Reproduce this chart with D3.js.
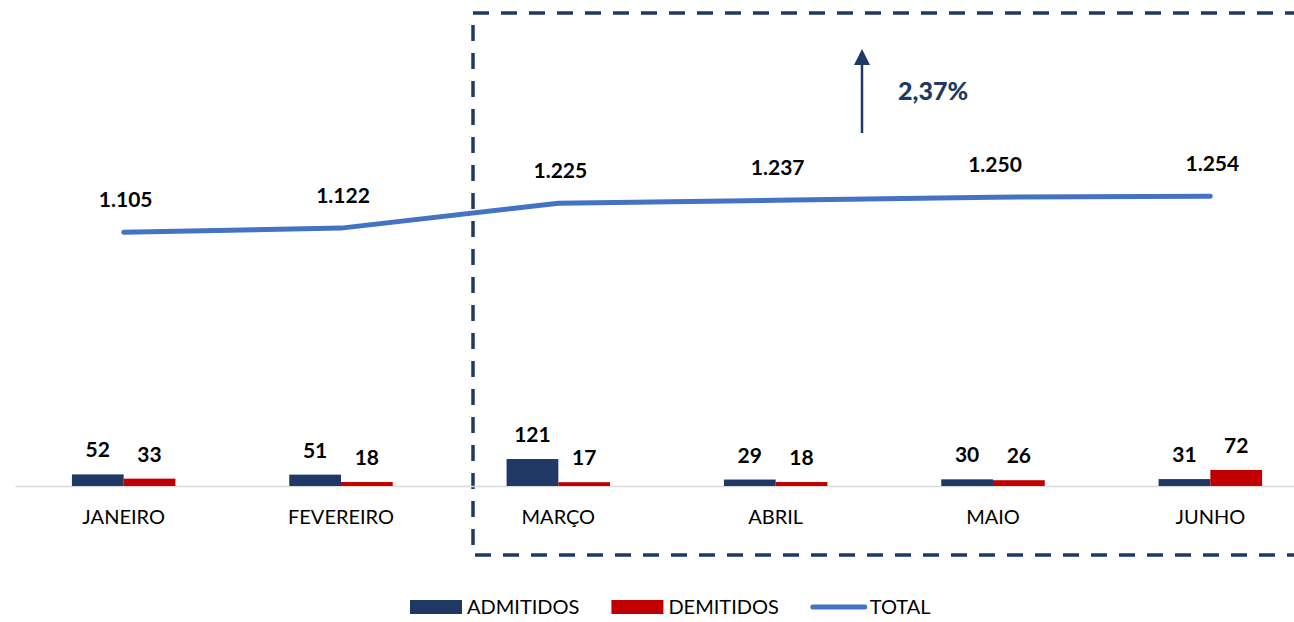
<!DOCTYPE html>
<html>
<head>
<meta charset="utf-8">
<script src="https://cdn.jsdelivr.net/npm/d3@7"></script>
<style>
  body { margin: 0; background: #fff; }
  svg { display: block; }
</style>
</head>
<body>
<div class="chart"></div>
<script>
var width = 1294,
  height = 622;

// data
var months = ['JANEIRO', 'FEVEREIRO', 'MARÇO', 'ABRIL', 'MAIO', 'JUNHO'];
var admitidos = [52, 51, 121, 29, 30, 31];
var demitidos = [33, 18, 17, 18, 26, 72];
var total = [1105, 1122, 1225, 1237, 1250, 1254];
var seriesNames = ['ADMITIDOS', 'DEMITIDOS', 'TOTAL'];
var highlightText = '2,37%';

var colors = { ADMITIDOS: '#203864', DEMITIDOS: '#C00000', TOTAL: '#4472C4' };
var fontFamily = 'Lato, "Open Sans", sans-serif';

var fmt = function (v) { return d3.format(',')(v).replace(/,/g, '.'); };

var svg = d3.select('.chart').append('svg')
  .attr('width', width)
  .attr('height', height);

// scales
var x = d3.scaleBand()
  .domain(months)
  .range([15, 1319])
  .padding(0);

var xSub = d3.scaleBand()
  .domain(['ADMITIDOS', 'DEMITIDOS'])
  .range([0, x.bandwidth()])
  .paddingInner(0)
  .paddingOuter(1.1);

// bars (primary axis)
var yBar = d3.scaleLinear()
  .domain([0, 1400])
  .range([486, 174]);

// total line (secondary axis)
var yLine = d3.scaleLinear()
  .domain([0, 1400])
  .range([499, 161]);

var barData = [];
months.forEach(function (m, i) {
  barData.push({ month: m, key: 'ADMITIDOS', value: admitidos[i] });
  barData.push({ month: m, key: 'DEMITIDOS', value: demitidos[i] });
});

// highlight box (dashed), runs off the right edge
svg.append('rect')
  .attr('x', 473)
  .attr('y', 13)
  .attr('width', 900)
  .attr('height', 542)
  .attr('fill', 'none')
  .attr('stroke', '#203864')
  .attr('stroke-width', 3.5)
  .attr('stroke-dasharray', '16,12');

// x axis
var xAxis = d3.axisBottom(x).tickSize(0).tickPadding(0);
var gx = svg.append('g')
  .attr('transform', 'translate(0,' + yBar(0) + ')')
  .call(xAxis);

gx.select('.domain')
  .attr('stroke', '#D9D9D9')
  .attr('stroke-width', 1.5);

gx.selectAll('text')
  .attr('y', 38)
  .attr('dy', 0)
  .attr('fill', '#000')
  .style('font-family', fontFamily)
  .style('font-size', '20px');

// bars
svg.selectAll('.bar')
  .data(barData)
  .enter().append('rect')
  .attr('class', 'bar')
  .attr('x', function (d) { return x(d.month) + xSub(d.key); })
  .attr('y', function (d) { return yBar(d.value); })
  .attr('width', xSub.bandwidth())
  .attr('height', function (d) { return yBar(0) - yBar(d.value); })
  .attr('fill', function (d) { return colors[d.key]; });

svg.selectAll('.bar-label')
  .data(barData)
  .enter().append('text')
  .attr('class', 'bar-label')
  .attr('x', function (d) { return x(d.month) + xSub(d.key) + xSub.bandwidth() / 2; })
  .attr('y', function (d) { return yBar(d.value) - 17; })
  .attr('text-anchor', 'middle')
  .style('font-family', fontFamily)
  .style('font-weight', 'bold')
  .style('font-size', '21px')
  .text(function (d) { return d.value; });

// total line
var line = d3.line()
  .x(function (d, i) { return x(months[i]) + x.bandwidth() / 2; })
  .y(function (d) { return yLine(d); });

svg.append('path')
  .datum(total)
  .attr('d', line)
  .attr('fill', 'none')
  .attr('stroke', colors.TOTAL)
  .attr('stroke-width', 5)
  .attr('stroke-linecap', 'round')
  .attr('stroke-linejoin', 'round');

svg.selectAll('.line-label')
  .data(total)
  .enter().append('text')
  .attr('class', 'line-label')
  .attr('x', function (d, i) { return x(months[i]) + x.bandwidth() / 2 + 2; })
  .attr('y', function (d) { return yLine(d) - 25; })
  .attr('text-anchor', 'middle')
  .style('font-family', fontFamily)
  .style('font-weight', 'bold')
  .style('font-size', '21px')
  .text(fmt);

// growth arrow + annotation
svg.append('line')
  .attr('x1', 862).attr('x2', 862)
  .attr('y1', 133).attr('y2', 63)
  .attr('stroke', '#203864')
  .attr('stroke-width', 2.5);

svg.append('path')
  .attr('d', 'M854,65 L862,49 L870,65 Z')
  .attr('fill', '#203864');

svg.append('text')
  .attr('x', 898)
  .attr('y', 100)
  .attr('fill', '#203864')
  .style('font-family', fontFamily)
  .style('font-weight', '900')
  .style('font-size', '25px')
  .text(highlightText);

// legend
var legend = svg.append('g').attr('transform', 'translate(0,607)');
var lx = 410;
seriesNames.forEach(function (name) {
  var item = legend.append('g').attr('transform', 'translate(' + lx + ',0)');
  if (name === 'TOTAL') {
    item.append('line')
      .attr('x1', 2).attr('x2', 54)
      .attr('y1', 0).attr('y2', 0)
      .attr('stroke', colors[name])
      .attr('stroke-width', 5)
      .attr('stroke-linecap', 'round');
  } else {
    item.append('rect')
      .attr('x', 0).attr('y', -7)
      .attr('width', 52).attr('height', 14)
      .attr('fill', colors[name]);
  }
  var t = item.append('text')
    .attr('x', name === 'TOTAL' ? 59 : 57)
    .attr('y', 7)
    .style('font-family', fontFamily)
    .style('font-size', '20px')
    .text(name);
  lx += 57 + t.node().getComputedTextLength() + 32;
});
</script>
</body>
</html>
